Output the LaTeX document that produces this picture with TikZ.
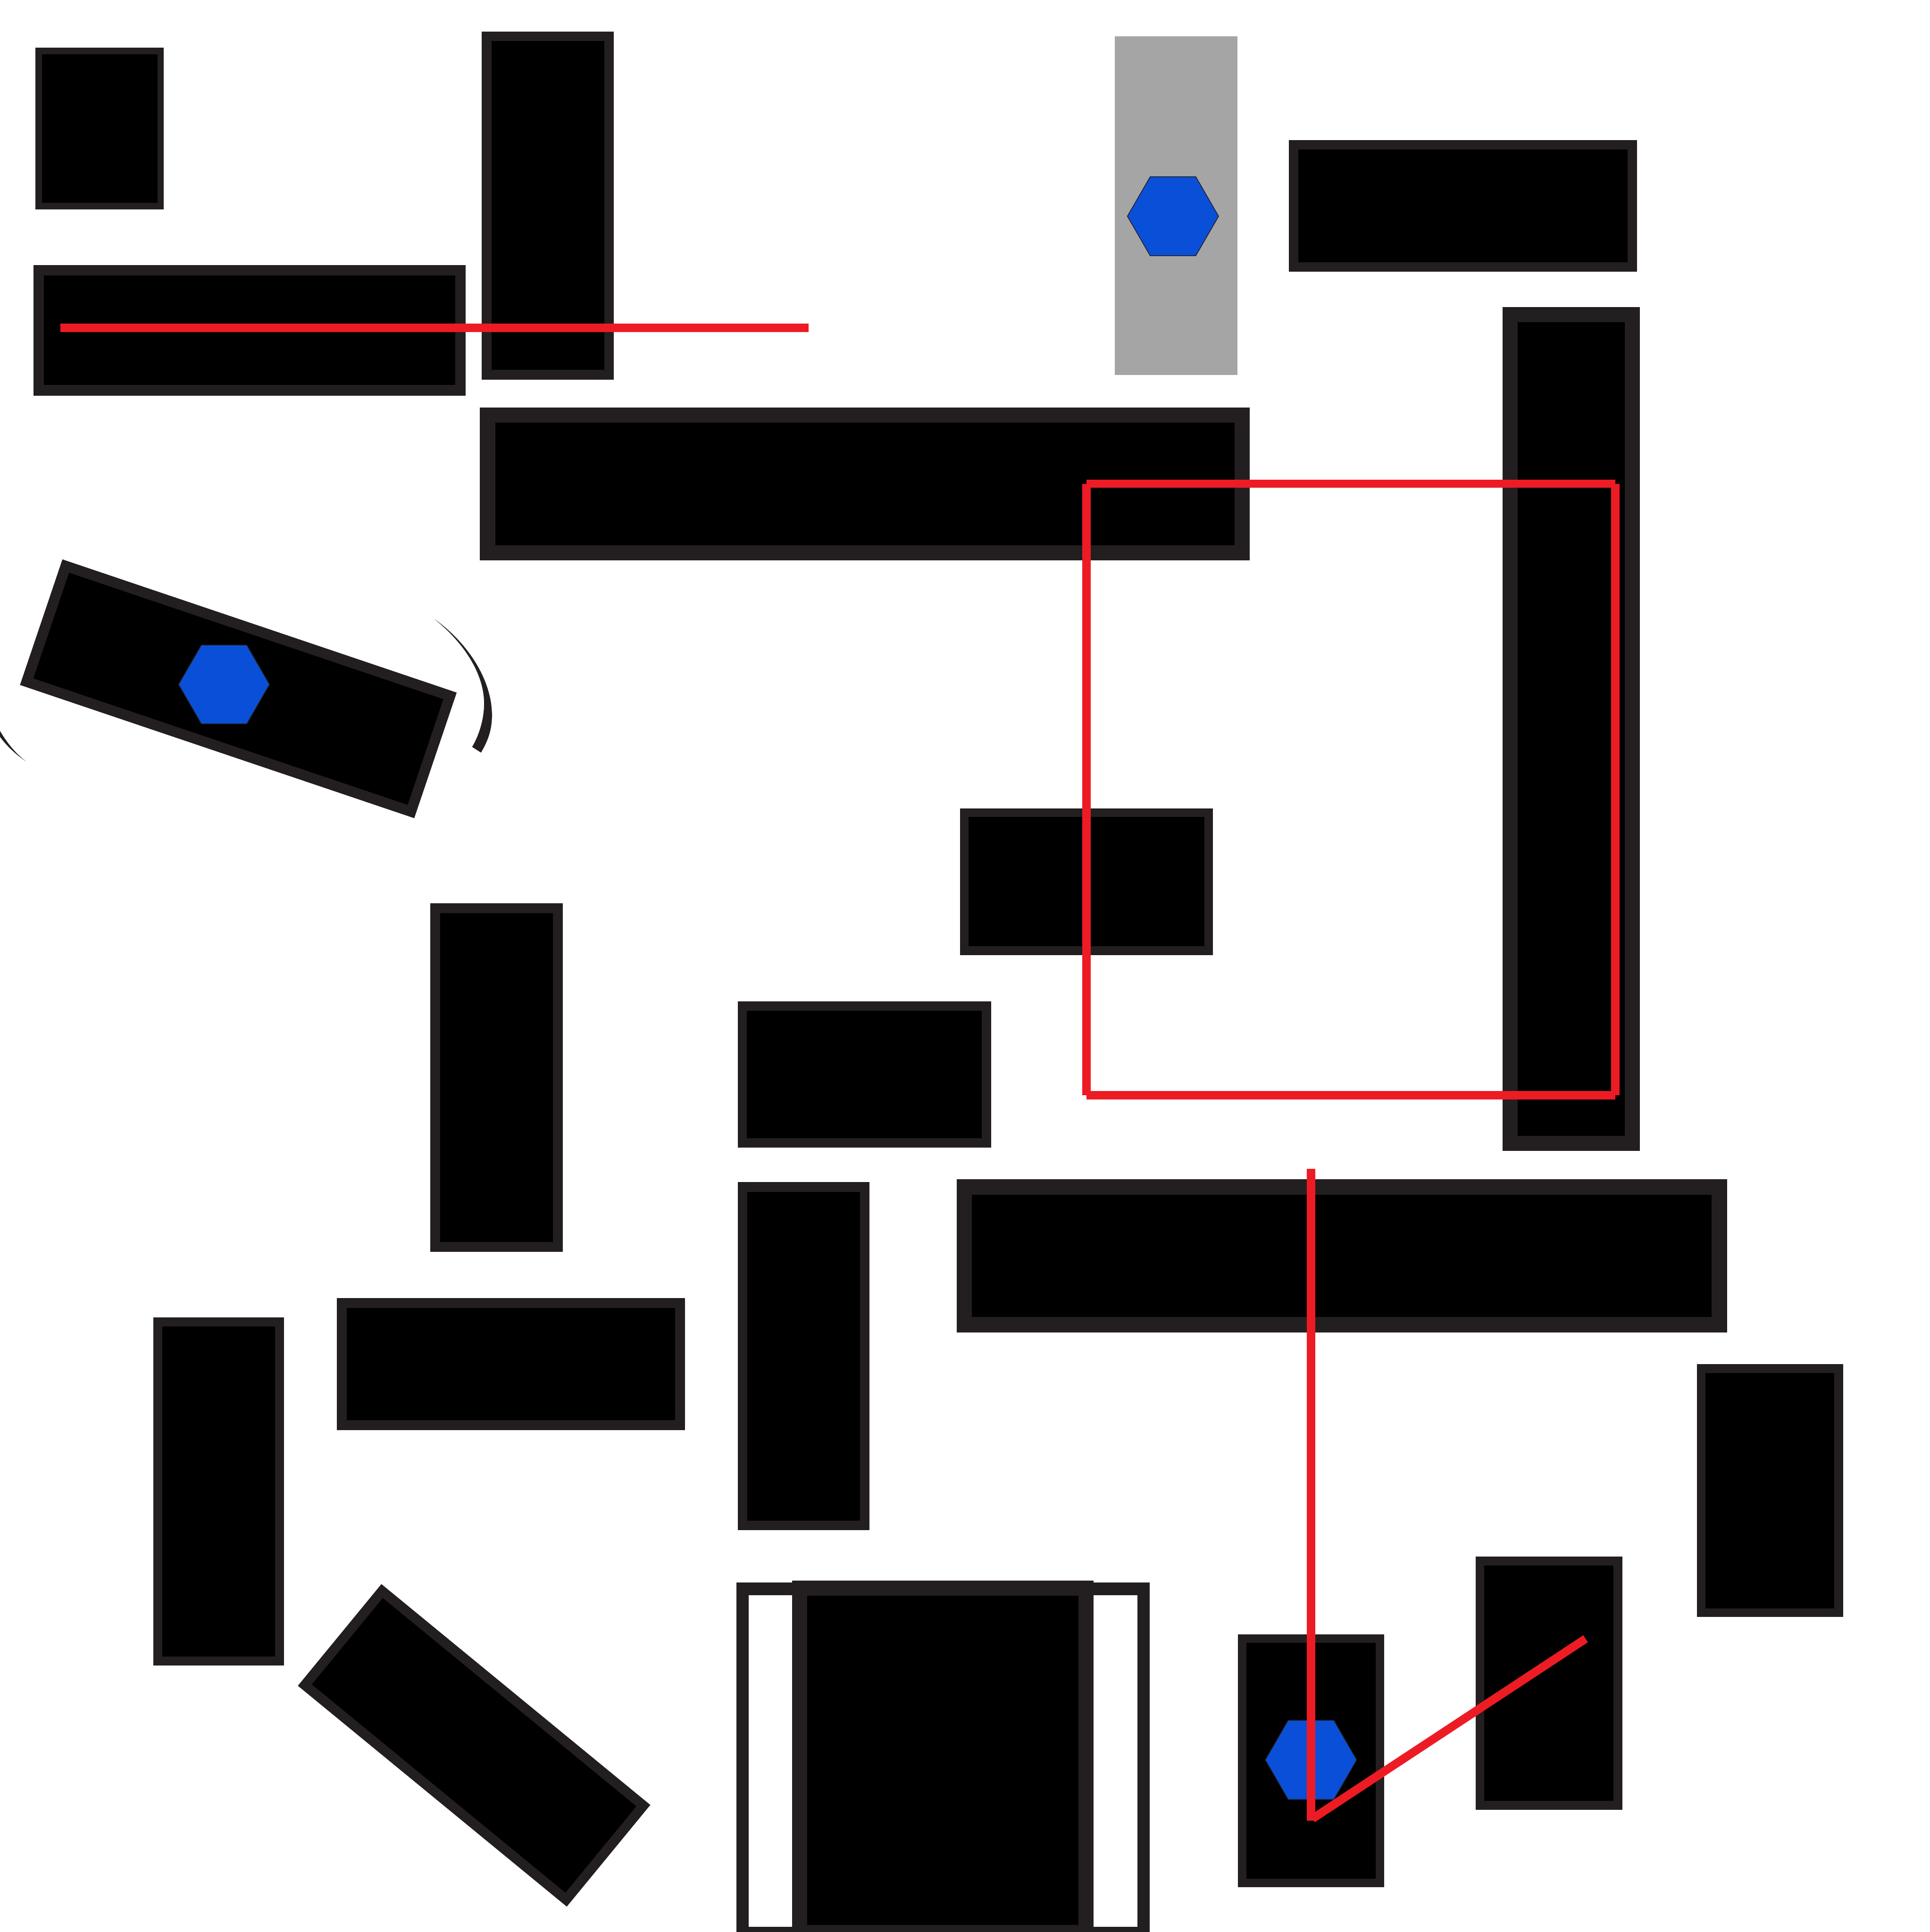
\documentclass[tikz,border=0pt]{standalone}
\usepackage{tikz}
\definecolor{frame}{HTML}{231F20}
\definecolor{redc}{HTML}{ED1C24}
\definecolor{hexblue}{HTML}{0A4FD8}
\definecolor{grayc}{HTML}{A5A5A5}
\tikzset{
  blk/.style={fill=black, draw=frame, line width=#1},
  redln/.style={draw=redc, line width=6.8pt, line cap=butt},
  hexa/.style={fill=hexblue, draw=frame, line width=0.6pt},
}
% box given by its outer edges: [fill]{x1}{y1}{x2}{y2}{border}
\newcommand{\mybox}[6][black]{\path[fill=#1,draw=frame,line width=#6pt] ({#2+#6/2},{#3+#6/2}) rectangle ({#4-#6/2},{#5-#6/2});}
\newcommand{\myhex}[3]{\path[hexa] (#1,#2) ++(0:#3) -- ++(120:#3) -- ++(180:#3) -- ++(240:#3) -- ++(300:#3) -- ++(0:#3) -- cycle;}
\begin{document}
\begin{tikzpicture}[x=1pt,y=-1pt]
\clip (0,0) rectangle (1566,1568);
\fill[white] (0,0) rectangle (1566,1568);

% top row
\mybox{28.6}{38.6}{133}{170}{5.3}
\mybox{391}{25.6}{498}{308}{7.7}
\mybox{27}{215}{378}{321}{8.7}
\fill[grayc] (904.7,29.5) rectangle (1004,304.5);
\mybox{1045.8}{113.6}{1328.4}{220.5}{7.8}
\mybox{1219.3}{249.1}{1330.6}{934}{12.2}
\mybox{389.5}{330.8}{1014.2}{454.7}{12.3}

% rotated box with hexagon
\begin{scope}[shift={(193.4,559)},rotate=-18.67]
  \path[blk=8.5pt] (-164.6,-49.55) rectangle (164.6,49.55);
\end{scope}
\fill[frame] (352.5,502.4) .. controls (380,522) and (399,552) .. (399.2,580)
  .. controls (399.3,593) and (395.5,602) .. (390.3,610.8)
  -- (383.1,606.2) .. controls (388,598) and (392.8,585) .. (392.8,570.9)
  .. controls (392.8,548) and (378,523) .. (352.5,502.4) -- cycle;
\fill[frame] (-1,591.5) .. controls (5,602) and (12,611) .. (21,617.8)
  .. controls (12,611.8) and (4,604) .. (-1,596.5) -- cycle;

% middle
\mybox{778.9}{656.2}{984.3}{775}{7}
\mybox{349.3}{733}{456.5}{1015.8}{8}
\mybox{598.6}{812.8}{804.2}{931.4}{7.5}
\mybox{598.6}{959.5}{705.5}{1242}{7.8}
\mybox{776.2}{957.2}{1401.3}{1081.3}{12.4}
\mybox{1376.8}{1107}{1495.7}{1312.4}{7.2}
\mybox{124.3}{1069}{230.5}{1351.8}{7.5}
\mybox{273.5}{1053.6}{555.9}{1160.8}{8}

% bottom
\begin{scope}[shift={(384.7,1416.5)},rotate=-39.4]
  \path[blk=8pt] (-137.2,-49.4) rectangle (137.2,49.4);
\end{scope}
\mybox[white]{597.4}{1284.5}{933}{1573.7}{10}
\mybox{642.6}{1282.8}{887.3}{1574.4}{12.2}
\mybox{1004.5}{1326.5}{1123.3}{1531.8}{7}
\mybox{1197.3}{1263.3}{1316.5}{1468.8}{7.2}

% hexagons
\myhex{951.8}{175.5}{37}
\myhex{181.8}{555.5}{36.9}
\myhex{1063.8}{1428.3}{37.1}

% red lines
\coordinate (a1) at (48.9,266);
\coordinate (a2) at (656,266);
\draw[redln] (a1) -- (a2);
\coordinate (s1) at (881.6,392.6);
\coordinate (s2) at (1310.7,392.6);
\coordinate (s3) at (1310.7,889);
\coordinate (s4) at (881.6,889);
\draw[redln] (s1) -- (s2);
\draw[redln] (s1) -- (s4);
\draw[redln] (s2) -- (s3);
\draw[redln] (s4) -- (s3);
\coordinate (v1) at (1063.8,948.6);
\coordinate (v2) at (1063.8,1477.5);
\coordinate (d1) at (1065,1476);
\coordinate (d2) at (1286.6,1330);
\draw[redln] (v1) -- (v2);
\draw[redln] (d1) -- (d2);
\end{tikzpicture}
\end{document}
